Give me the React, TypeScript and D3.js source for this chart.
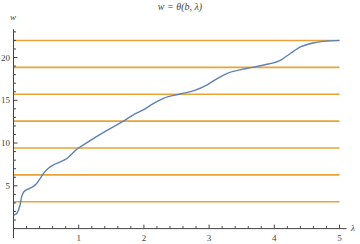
import React from "react";
import * as d3 from "d3";

const lambdaVals = [0, 0.03, 0.06, 0.1, 0.125, 0.16, 0.25, 0.345, 0.41, 0.46, 0.535, 0.64, 0.82, 0.97, 1.15, 1.44, 1.67, 1.84, 1.99, 2.15, 2.3, 2.56, 2.77, 2.97, 3.13, 3.28, 3.59, 3.84, 4.1, 4.25, 4.41, 4.61, 4.82, 5.0];
const wVals = [1.57, 1.65, 1.88, 2.76, 3.73, 4.31, 4.71, 5.18, 5.88, 6.46, 7.05, 7.55, 8.2, 9.27, 10.16, 11.5, 12.5, 13.3, 13.87, 14.65, 15.23, 15.74, 16.13, 16.8, 17.57, 18.15, 18.74, 19.13, 19.7, 20.5, 21.26, 21.73, 21.93, 22.0];
const levels = [1, 2, 3, 4, 5, 6, 7].map((k) => k * Math.PI);
const xMajor = [1, 2, 3, 4, 5];
const yMajor = [5, 10, 15, 20];

export default function App() {
  const W = 360, H = 244;
  const x = d3.scaleLinear().domain([0, 5]).range([13.5, 339.5]);
  const y = d3.scaleLinear().domain([0, 22]).range([228.6, 40.4]);
  const xMinor = d3.range(0, 5.11, 0.2).filter((v) => Math.abs(v - Math.round(v)) > 1e-6);
  const yMinor = d3.range(0, 24, 1).filter((v) => v % 5 !== 0 && v <= 23.3);
  const pts: [number, number][] = lambdaVals.map((l, i) => [l, wVals[i]]);
  const line = d3.line<[number, number]>().x((d) => x(d[0])).y((d) => y(d[1])).curve(d3.curveMonotoneX);
  const font = "'Liberation Serif', 'DejaVu Serif', serif";
  const gray = "#444";
  const y0 = y(0);
  const x0 = x(0);
  return (
    <svg width={W} height={H} style={{ position: "fixed", left: 0, top: 0, background: "#fff" }}>
      <text x={180} y={10} textAnchor="middle" fontFamily={font} fontSize={10} fontStyle="italic" fill={gray}>
        w = θ(b, λ)
      </text>
      {levels.map((v, i) => (
        <line key={i} x1={x0} x2={x(5)} y1={y(v)} y2={y(v)} stroke="#E9A237" strokeWidth={1.6} />
      ))}
      <path d={line(pts) || ""} fill="none" stroke="#5E81B5" strokeWidth={1.4} />
      <line x1={x0} x2={x0} y1={y(23.3)} y2={238} stroke={gray} strokeWidth={1} />
      <line x1={x0} x2={346.5} y1={y0} y2={y0} stroke={gray} strokeWidth={1} />
      {xMajor.map((v) => (
        <g key={"xm" + v}>
          <line x1={x(v)} x2={x(v)} y1={y0} y2={y0 - 4} stroke={gray} />
          <text x={x(v)} y={241} textAnchor="middle" fontFamily={font} fontSize={9} fill={gray}>{v}</text>
        </g>
      ))}
      {xMinor.map((v, i) => (
        <line key={"xn" + i} x1={x(v)} x2={x(v)} y1={y0} y2={y0 - 2.5} stroke={gray} />
      ))}
      {yMajor.map((v) => (
        <g key={"ym" + v}>
          <line x1={x0} x2={x0 + 4} y1={y(v)} y2={y(v)} stroke={gray} />
          <text x={10} y={y(v) + 3} textAnchor="end" fontFamily={font} fontSize={9} fill={gray}>{v}</text>
        </g>
      ))}
      {yMinor.map((v, i) => (
        <line key={"yn" + i} x1={x0} x2={x0 + 2.5} y1={y(v)} y2={y(v)} stroke={gray} />
      ))}
      <text x={13} y={20} textAnchor="middle" fontFamily={font} fontSize={9} fontStyle="italic" fill={gray}>w</text>
      <text x={353} y={231} textAnchor="middle" fontFamily={font} fontSize={9} fontStyle="italic" fill={gray}>λ</text>
    </svg>
  );
}
